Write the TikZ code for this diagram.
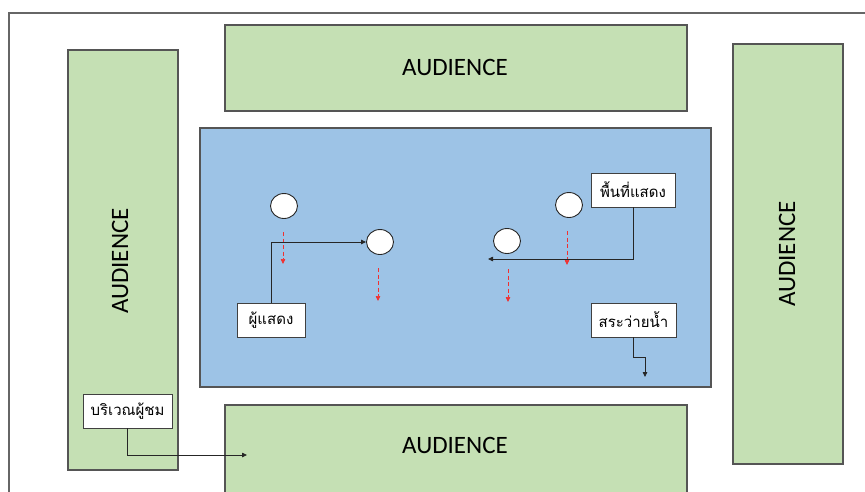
\documentclass[tikz,border=0pt]{standalone}
\usepackage{fontspec}
\setmainfont{Carlito}
\newfontfamily\thaifont[Script=Thai]{Loma}
\usetikzlibrary{arrows.meta}
\definecolor{aud}{HTML}{C5E0B4}
\definecolor{stage}{HTML}{9DC3E6}
\definecolor{edge}{HTML}{555555}
\definecolor{mvred}{HTML}{F03030}
\tikzset{
  audbox/.style={draw=edge, line width=1.3pt, fill=aud, rectangle, inner sep=0pt},
  audtext/.style={font=\fontsize{25}{25}\selectfont, text=black, inner sep=0pt},
  stagebox/.style={draw=edge, line width=1.3pt, fill=stage, rectangle, inner sep=0pt},
  actor/.style={draw=black!85, line width=0.9pt, fill=white, ellipse, minimum width=27pt, minimum height=25pt, inner sep=0pt},
  lbl/.style={draw=black!75, line width=0.8pt, fill=white, rectangle, inner sep=0pt, minimum height=34pt, font=\thaifont\fontsize{15}{15}\selectfont},
  conn/.style={draw=black!85, line width=0.8pt, -{Triangle[length=5pt,width=4.5pt]}},
  move/.style={draw=mvred, dash pattern=on 4pt off 2.5pt, line width=0.7pt, -{Triangle[length=5pt,width=4.5pt]}},
}
\usetikzlibrary{shapes.geometric}
\begin{document}
\begin{tikzpicture}[x=1pt,y=-1pt]
\clip (0,0) rectangle (865,491);
\fill[white] (0,0) rectangle (865,491);
% outer frame
\draw[draw=black!60, line width=1.4pt] (9,13) rectangle (890,520);
% audience areas
\node[audbox, minimum width=462pt, minimum height=86pt] (audT) at (456,68) {};
\node[audtext] (audTt) at (455,67) {AUDIENCE};
\node[audbox, minimum width=462pt, minimum height=100pt] (audB) at (456,455) {};
\node[audtext] (audBt) at (455,445) {AUDIENCE};
\node[audbox, minimum width=110pt, minimum height=420pt] (audL) at (123,260) {};
\node[audtext, rotate=90] (audLt) at (120,261) {AUDIENCE};
\node[audbox, minimum width=110pt, minimum height=420pt] (audR) at (788,254) {};
\node[audtext, rotate=90] (audRt) at (787,254) {AUDIENCE};
% stage
\node[stagebox, minimum width=511pt, minimum height=259pt] (stg) at (455.5,257.5) {};
% performers
\node[actor] (c1) at (284,206) {};
\node[actor] (c2) at (380,242) {};
\node[actor] (c3) at (507,241) {};
\node[actor] (c4) at (569,205) {};
% movement arrows
\coordinate (m1a) at (283,232); \coordinate (m1b) at (283,264);
\coordinate (m2a) at (378,268); \coordinate (m2b) at (378,301);
\coordinate (m3a) at (508,269); \coordinate (m3b) at (508,302);
\coordinate (m4a) at (567,231); \coordinate (m4b) at (567,265);
\draw[move] (m1a) -- (m1b);
\draw[move] (m2a) -- (m2b);
\draw[move] (m3a) -- (m3b);
\draw[move] (m4a) -- (m4b);
% labels
\node[lbl, minimum width=68pt] (l1) at (271,320) {ผู้แสดง};
\node[lbl, minimum width=84pt] (l2) at (633,190) {พื้นที่แสดง};
\node[lbl, minimum width=85pt] (l3) at (633.5,320) {สระว่ายน้ำ};
\node[lbl, minimum width=89pt] (l4) at (127.5,411) {บริเวณผู้ชม};
% connectors
\coordinate (e2) at (488,259);
\coordinate (e3) at (645,377);
\coordinate (e4) at (247,455);
\draw[conn] (l1.north) |- (c2.west);
\draw[conn] (l2.south) |- (e2);
\draw[conn] (l3.south) -- ++(0,20) -| (e3);
\draw[conn] (l4.south) |- (e4);
\end{tikzpicture}
\end{document}
